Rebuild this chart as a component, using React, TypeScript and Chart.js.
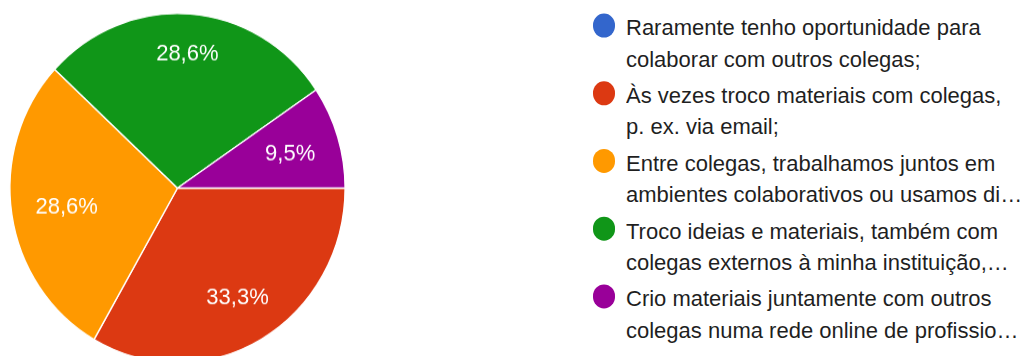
import React, { useEffect, useRef, useMemo } from "react";
import { Chart, registerables } from "chart.js";

Chart.register(...registerables);

const categories = [
  "Raramente tenho oportunidade para colaborar com outros colegas;",
  "Às vezes troco materiais com colegas, p. ex. via email;",
  "Entre colegas, trabalhamos juntos em ambientes colaborativos ou usamos discos partilhados;",
  "Troco ideias e materiais, também com colegas externos à minha instituição, p. ex. numa rede online de professores;",
  "Crio materiais juntamente com outros colegas numa rede online de profissionais.",
];
const percentages = [0, 33.3, 28.6, 28.6, 9.5];
const colors = ["#3366cc", "#dc3912", "#ff9900", "#109618", "#990099"];

const FONT = "'Liberation Sans', Arial, Helvetica, sans-serif";
const STRETCH = 1.0419;
const FIRST_LINE_MAX = 395;
const SECOND_LINE_WIDTH = 400;

const labelPlugin = {
  id: "sliceLabels",
  afterDatasetsDraw(chart: any) {
    const ctx = chart.ctx;
    const meta = chart.getDatasetMeta(0);
    ctx.save();
    ctx.font = `22px ${FONT}`;
    ctx.fillStyle = "#ffffff";
    ctx.textAlign = "center";
    ctx.textBaseline = "alphabetic";
    meta.data.forEach((arc: any, i: number) => {
      const v = percentages[i];
      if (!v) return;
      const { x, y, startAngle, endAngle, outerRadius } = arc.getProps(
        ["x", "y", "startAngle", "endAngle", "outerRadius"],
        true
      );
      const mid = (startAngle + endAngle) / 2;
      const c = Math.cos(mid);
      const s = Math.sin(mid);
      const text = v.toFixed(1).replace(".", ",") + "%";
      const w = ctx.measureText(text).width;
      const h = 22 * 0.716;
      const a = (Math.sign(c) * w) / 2;
      const b = (Math.sign(s) * h) / 2;
      const R = outerRadius * 0.86;
      const k = c * a + s * b;
      const d = -k + Math.sqrt(Math.max(k * k - (a * a + b * b - R * R), 0));
      ctx.fillText(text, x + c * d, y + s * d + h / 2);
    });
    ctx.restore();
  },
};

function splitLines(text: string): [string, string] {
  const cv = document.createElement("canvas");
  const ctx = cv.getContext("2d")!;
  ctx.font = `22px ${FONT}`;
  const words = text.split(" ");
  let line = "";
  let idx = 0;
  for (; idx < words.length; idx++) {
    const cand = line ? line + " " + words[idx] : words[idx];
    if (ctx.measureText(cand).width > FIRST_LINE_MAX && line) break;
    line = cand;
  }
  const rest = words.slice(idx).join(" ");
  if (ctx.measureText(rest).width <= SECOND_LINE_WIDTH) return [line, rest];
  const chars = Array.from(rest);
  let second = "";
  for (let n = chars.length; n > 0; n--) {
    const cand = chars.slice(0, n).join("").trimEnd() + "…";
    if (ctx.measureText(cand).width <= SECOND_LINE_WIDTH) {
      second = cand;
      break;
    }
  }
  return [line, second];
}

export default function App() {
  const canvasRef = useRef<HTMLCanvasElement | null>(null);
  const lines = useMemo(() => categories.map(splitLines), []);

  useEffect(() => {
    document.body.style.margin = "0";
    document.body.style.overflow = "hidden";
    const canvas = canvasRef.current;
    if (!canvas) return;
    const chart = new Chart(canvas, {
      type: "pie",
      data: {
        labels: categories,
        datasets: [
          {
            data: percentages,
            backgroundColor: colors,
            borderColor: "#ffffff",
            borderWidth: 1.4,
            radius: 167.6,
          } as any,
        ],
      },
      options: {
        responsive: false,
        animation: false,
        rotation: 90,
        layout: { padding: 0 },
        plugins: {
          legend: { display: false },
          tooltip: { enabled: false },
        },
        events: [],
      },
      plugins: [labelPlugin],
    });
    return () => chart.destroy();
  }, []);

  const textStyle: React.CSSProperties = {
    font: `22px ${FONT}`,
    lineHeight: "30px",
    height: 30,
    color: "#1f1f1f",
    whiteSpace: "nowrap",
    overflow: "hidden",
    width: SECOND_LINE_WIDTH + 8,
  };

  return (
    <div
      style={{
        position: "fixed",
        left: 0,
        top: 0,
        width: 1032,
        height: 342,
        overflow: "hidden",
        transform: `scaleY(${STRETCH})`,
        transformOrigin: "0 0",
        background: "#ffffff",
      }}
    >
      <canvas
        ref={canvasRef}
        width={355}
        height={361}
        style={{ position: "absolute", left: 0, top: 0, width: 355, height: 361, display: "block" }}
      />
      <div style={{ position: "absolute", left: 592, top: 12 }}>
        {categories.map((cat, i) => (
          <div key={i} style={{ position: "relative", height: 60, marginBottom: 5 }}>
            <div
              style={{
                position: "absolute",
                left: 0.7,
                top: 1,
                width: 22.5,
                height: 22.5,
                borderRadius: "50%",
                background: colors[i],
              }}
            />
            <div style={{ position: "absolute", left: 34, top: 0 }} title={cat}>
              <div style={textStyle}>{lines[i][0]}</div>
              <div style={textStyle}>{lines[i][1]}</div>
            </div>
          </div>
        ))}
      </div>
    </div>
  );
}
